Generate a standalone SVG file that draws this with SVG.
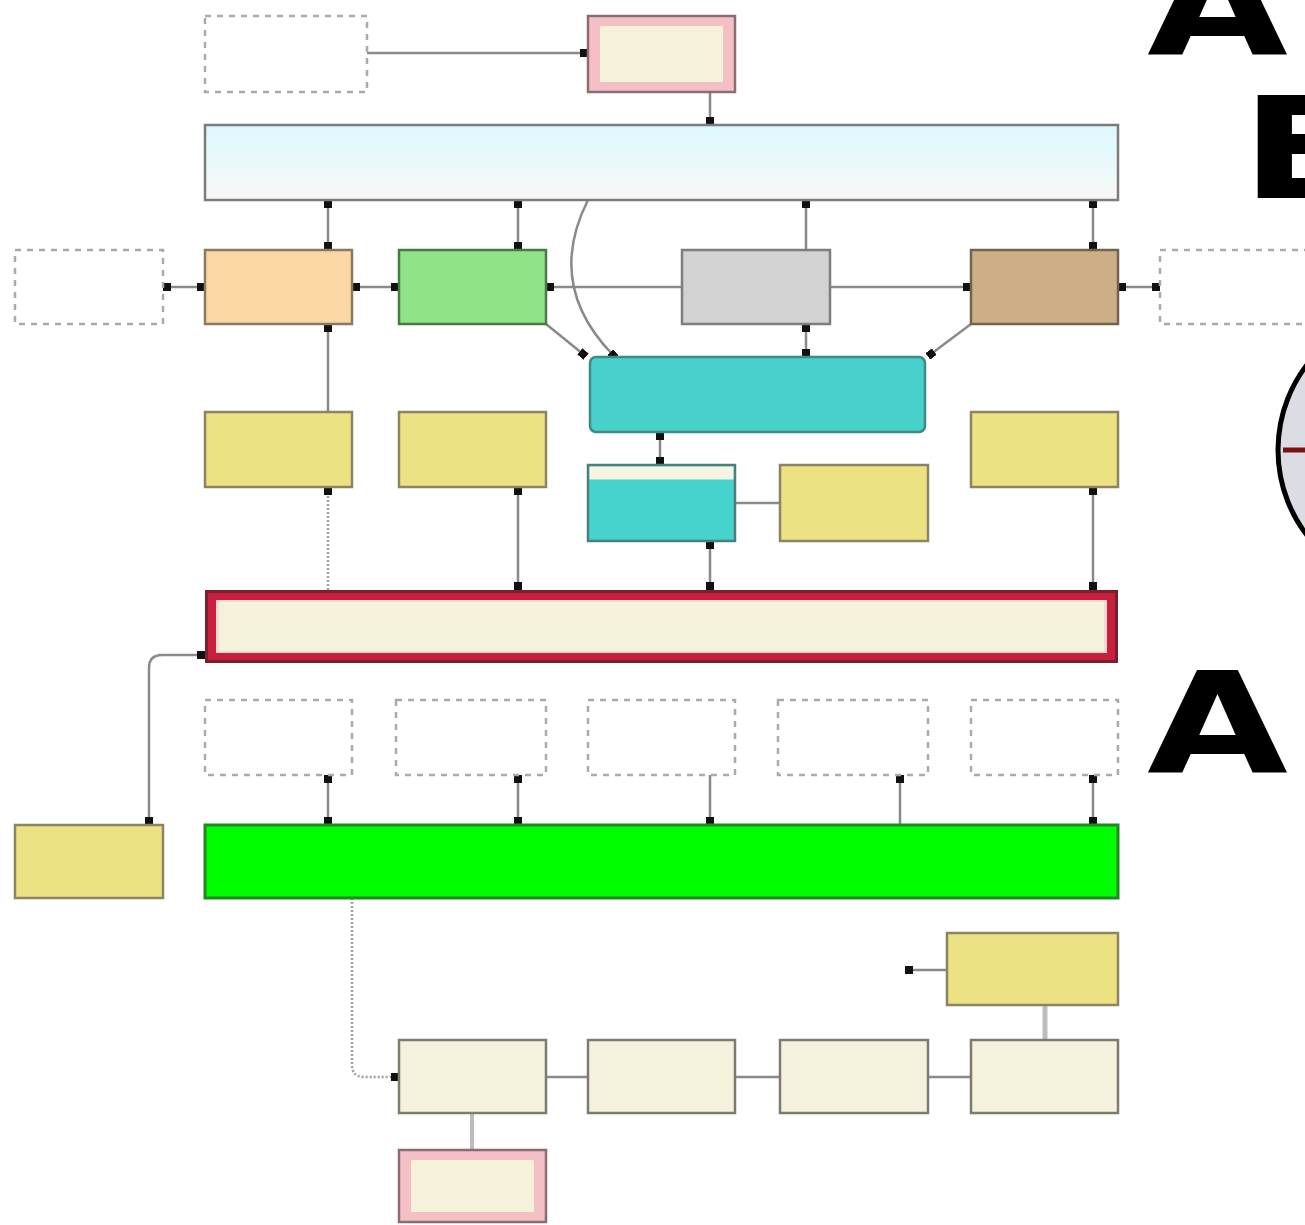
<svg xmlns="http://www.w3.org/2000/svg" width="1305" height="1225" viewBox="0 0 1305 1225">
<style>
.ln{fill:none;stroke:#8a8a8a;stroke-width:2.5}
.dot{fill:none;stroke:#a0a0a0;stroke-width:2.5;stroke-dasharray:2,2}
.dash{fill:#fff;stroke:#aaaaaa;stroke-width:2.5;stroke-dasharray:6,6}
.yel{fill:#ede283;stroke:#8c8460;stroke-width:2.5}
.crm{fill:#f4f2dc;stroke:#7d7b70;stroke-width:2.5}
.big{font-family:"DejaVu Sans",sans-serif;font-weight:bold;font-size:140px;fill:#000}
</style>
<defs>
<marker id="m" viewBox="0 0 8 8" refX="4" refY="4" markerWidth="8" markerHeight="8" markerUnits="userSpaceOnUse" orient="auto">
<rect x="0" y="0" width="8" height="8" fill="#111"/>
</marker>
<linearGradient id="gtop" x1="0" y1="0" x2="0" y2="1">
<stop offset="0" stop-color="#dcf9ff"/>
<stop offset="1" stop-color="#f8f8f6"/>
</linearGradient>
</defs>
<rect width="1305" height="1225" fill="#fff"/>

<g id="connectors">
<path class="ln" d="M367,53 L584,53" marker-end="url(#m)"/>
<path class="ln" d="M710,92 L710,121" marker-end="url(#m)"/>
<path class="ln" d="M328,204 L328,246" marker-start="url(#m)" marker-end="url(#m)"/>
<path class="ln" d="M518,204 L518,246" marker-start="url(#m)" marker-end="url(#m)"/>
<path class="ln" d="M806,250 L806,204" marker-end="url(#m)"/>
<path class="ln" d="M1093,204 L1093,246" marker-start="url(#m)" marker-end="url(#m)"/>
<path class="ln" d="M167,287 L201,287" marker-start="url(#m)" marker-end="url(#m)"/>
<path class="ln" d="M356,287 L395,287" marker-start="url(#m)" marker-end="url(#m)"/>
<path class="ln" d="M682,287 L550,287" marker-end="url(#m)"/>
<path class="ln" d="M830,287 L967,287" marker-end="url(#m)"/>
<path class="ln" d="M1122,287 L1156,287" marker-start="url(#m)" marker-end="url(#m)"/>
<path class="ln" d="M588,200 Q545,285 613,355" marker-end="url(#m)"/>
<path class="ln" d="M546,324 L583,354" marker-end="url(#m)"/>
<path class="ln" d="M806,328 L806,353" marker-start="url(#m)" marker-end="url(#m)"/>
<path class="ln" d="M971,324 L931,354" marker-end="url(#m)"/>
<path class="ln" d="M328,412 L328,328" marker-end="url(#m)"/>
<path class="ln" d="M660,436 L660,461" marker-start="url(#m)" marker-end="url(#m)"/>
<path class="ln" d="M735,503 L780,503"/>
<path class="dot" d="M328,590 L328,491" marker-end="url(#m)"/>
<path class="ln" d="M518,491 L518,586" marker-start="url(#m)" marker-end="url(#m)"/>
<path class="ln" d="M710,545 L710,586" marker-start="url(#m)" marker-end="url(#m)"/>
<path class="ln" d="M1093,491 L1093,586" marker-start="url(#m)" marker-end="url(#m)"/>
<path class="ln" d="M149,821 L149,668 Q149,655 162,655 L201,655" marker-start="url(#m)" marker-end="url(#m)"/>
<path class="ln" d="M328,779 L328,821" marker-start="url(#m)" marker-end="url(#m)"/>
<path class="ln" d="M518,779 L518,821" marker-start="url(#m)" marker-end="url(#m)"/>
<path class="ln" d="M710,775 L710,821" marker-end="url(#m)"/>
<path class="ln" d="M900,825 L900,779" marker-end="url(#m)"/>
<path class="ln" d="M1093,779 L1093,821" marker-start="url(#m)" marker-end="url(#m)"/>
<path class="dot" d="M352,898 L352,1065 Q352,1077 364,1077 L395,1077" marker-end="url(#m)"/>
<path class="ln" d="M546,1077 L588,1077"/>
<path class="ln" d="M735,1077 L780,1077"/>
<path class="ln" d="M928,1077 L971,1077"/>
<path class="ln" d="M947,970 L909,970" marker-end="url(#m)"/>
<path fill="none" stroke="#bdbdbd" stroke-width="5" d="M1045,1005 L1045,1040"/>
<path fill="none" stroke="#bdbdbd" stroke-width="4" d="M472,1113 L472,1150"/>
</g>

<g id="n-dash-top"><rect class="dash" x="205" y="16" width="162" height="76"/></g>
<g id="n-pink-top">
<rect x="588" y="16" width="147" height="76" fill="#f4c0c6" stroke="#8c6c72" stroke-width="2.5"/>
<rect x="600" y="26" width="123" height="56" fill="#f5f1da"/>
</g>
<g id="n-topbar"><rect x="205" y="125" width="913" height="75" fill="url(#gtop)" stroke="#7a7d7a" stroke-width="2.5"/></g>

<g id="n-dash-l"><rect class="dash" x="15" y="250" width="148" height="74"/></g>
<g id="n-orange"><rect x="205" y="250" width="147" height="74" fill="#fbd8a3" stroke="#8a7a62" stroke-width="2.5"/></g>
<g id="n-green"><rect x="399" y="250" width="147" height="74" fill="#8fe488" stroke="#4a7a48" stroke-width="2.5"/></g>
<g id="n-gray"><rect x="682" y="250" width="148" height="74" fill="#d2d2d2" stroke="#7d7d7d" stroke-width="2.5"/></g>
<g id="n-tan"><rect x="971" y="250" width="147" height="74" fill="#cdae86" stroke="#72634e" stroke-width="2.5"/></g>
<g id="n-dash-r"><rect class="dash" x="1160" y="250" width="160" height="74"/></g>

<g id="n-cyan"><rect x="590" y="357" width="335" height="75" rx="6" fill="#48d0cb" stroke="#3e8a86" stroke-width="2.5"/></g>

<g id="n-y1"><rect class="yel" x="205" y="412" width="147" height="75"/></g>
<g id="n-y2"><rect class="yel" x="399" y="412" width="147" height="75"/></g>
<g id="n-y3"><rect class="yel" x="971" y="412" width="147" height="75"/></g>

<g id="n-cyan-small">
<rect x="588" y="465" width="147" height="76" fill="#46d2cd" stroke="#4a7f7a" stroke-width="2.5"/>
<rect x="589.5" y="466.5" width="144" height="13" fill="#f7f4e4"/>
</g>
<g id="n-y4"><rect class="yel" x="780" y="465" width="148" height="76"/></g>

<g id="n-redbar">
<rect x="205" y="590" width="913" height="73" fill="#7a1f2e"/>
<rect x="208" y="593" width="907" height="67" fill="#c81f3c"/>
<rect x="216" y="600" width="891" height="53" fill="#f9d8d2"/>
<rect x="219" y="602" width="885" height="49" fill="#f5f2dc"/>
</g>

<g id="n-d1"><rect class="dash" x="205" y="700" width="147" height="75"/></g>
<g id="n-d2"><rect class="dash" x="396" y="700" width="150" height="75"/></g>
<g id="n-d3"><rect class="dash" x="588" y="700" width="147" height="75"/></g>
<g id="n-d4"><rect class="dash" x="778" y="700" width="150" height="75"/></g>
<g id="n-d5"><rect class="dash" x="971" y="700" width="147" height="75"/></g>

<g id="n-yleft"><rect class="yel" x="15" y="825" width="148" height="73"/></g>
<g id="n-greenbar"><rect x="205" y="825" width="913" height="73" fill="#00fe00" stroke="#1f8a22" stroke-width="3"/></g>

<g id="n-y5"><rect class="yel" x="947" y="933" width="171" height="72"/></g>
<g id="n-c1"><rect class="crm" x="399" y="1040" width="147" height="73"/></g>
<g id="n-c2"><rect class="crm" x="588" y="1040" width="147" height="73"/></g>
<g id="n-c3"><rect class="crm" x="780" y="1040" width="148" height="73"/></g>
<g id="n-c4"><rect class="crm" x="971" y="1040" width="147" height="73"/></g>
<g id="n-pink-bot">
<rect x="399" y="1150" width="147" height="72" fill="#f4c0c6" stroke="#8c6c72" stroke-width="2.5"/>
<rect x="411" y="1160" width="123" height="52" fill="#f5f1da"/>
</g>

<g id="n-gauge">
<circle cx="1418" cy="450" r="140" fill="#dcdde4" stroke="#000" stroke-width="5"/>
<line x1="1283" y1="450" x2="1305" y2="450" stroke="#7a1010" stroke-width="5"/>
</g>

<g id="titles">
<text class="big" transform="translate(1147,55) scale(1.3,1)">A</text>
<text class="big" transform="translate(1241,198) scale(1.3,1)">E</text>
<text class="big" transform="translate(1147,773) scale(1.3,1)">A</text>
</g>
</svg>
